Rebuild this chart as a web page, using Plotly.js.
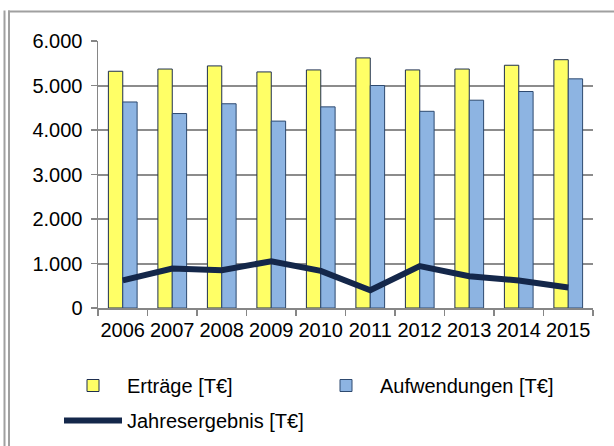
<!DOCTYPE html>
<html>
<head>
<meta charset="utf-8">
<script src="https://cdn.plot.ly/plotly-3.0.1.min.js"></script>
<style>
  html, body { margin: 0; padding: 0; background: #fff; }
  #chart { width: 614px; height: 446px; }
</style>
</head>
<body>
<div id="chart"></div>
<script>
// ---- data ----
const years = ['2006', '2007', '2008', '2009', '2010', '2011', '2012', '2013', '2014', '2015'];
const ertraege = [5320, 5370, 5440, 5305, 5350, 5620, 5350, 5370, 5455, 5580];
const aufwendungen = [4630, 4370, 4590, 4200, 4520, 5000, 4420, 4670, 4865, 5150];
const jahresergebnis = [620, 887, 850, 1050, 835, 400, 940, 715, 620, 460];
const seriesNames = ['Erträge [T€]', 'Aufwendungen [T€]', 'Jahresergebnis [T€]'];
const yTicks = [0, 1000, 2000, 3000, 4000, 5000, 6000];

// ---- layout geometry (pixels) ----
const W = 614, H = 446;
const L = 98, R = 21, T = 40.5, B = 138;
const pw = W - L - R, ph = H - T - B;
const px = x => (x - L) / pw;
const py = y => (H - B - y) / ph;
const cx = x => x / W;
const cy = y => (H - y) / H;

const FONT = 'Liberation Sans, Arial, sans-serif';

const traces = [
  {
    type: 'bar', name: seriesNames[0], x: years, y: ertraege,
    marker: { color: '#FFFF66', line: { color: '#1E2F4F', width: 1 } },
    legend: 'legend', hoverinfo: 'skip'
  },
  {
    type: 'bar', name: seriesNames[1], x: years, y: aufwendungen,
    marker: { color: '#8DB4E2', line: { color: '#2E4A70', width: 1 } },
    legend: 'legend2', hoverinfo: 'skip'
  },
  {
    type: 'scatter', mode: 'lines', name: seriesNames[2], x: years, y: jahresergebnis,
    line: { color: '#14274A', width: 6 },
    legend: 'legend3', hoverinfo: 'skip'
  }
];

const legendCommon = {
  orientation: 'h',
  xref: 'container', yref: 'container',
  xanchor: 'left', yanchor: 'top',
  itemwidth: 58,
  font: { family: FONT, size: 20, color: '#000' },
  bgcolor: 'rgba(0,0,0,0)', borderwidth: 0
};

const frame = { color: '#A0A0A0', width: 2 };
const layout = {
  width: W, height: H,
  margin: { l: L, r: R, t: T, b: B, pad: 0 },
  paper_bgcolor: '#ffffff', plot_bgcolor: '#ffffff',
  font: { family: FONT, size: 20, color: '#000000' },
  separators: ',.',
  barmode: 'group',
  bargap: 0.42,
  bargroupgap: 0,
  showlegend: true,
  legend: Object.assign({}, legendCommon, { x: cx(59), y: cy(366) }),
  legend2: Object.assign({}, legendCommon, { x: cx(312), y: cy(366) }),
  legend3: Object.assign({}, legendCommon, { x: cx(59), y: cy(401) }),
  xaxis: {
    type: 'category',
    showgrid: false,
    showline: true, linecolor: '#868686', linewidth: 1.5,
    ticks: 'outside', ticklen: 6, tickcolor: '#868686', tickwidth: 1.5,
    tickson: 'boundaries',
    tickangle: 0,
    ticklabelstandoff: 3,
    tickfont: { family: FONT, size: 20, color: '#000' },
    fixedrange: true
  },
  yaxis: {
    range: [0, 6000],
    tickvals: yTicks,
    tickformat: ',d',
    showgrid: true, gridcolor: '#8C8C8C', gridwidth: 2,
    zeroline: false,
    showline: true, linecolor: '#868686', linewidth: 1.5,
    ticks: 'outside', ticklen: 6, tickcolor: '#868686', tickwidth: 1.5,
    ticklabelstandoff: 4,
    tickfont: { family: FONT, size: 20, color: '#000' },
    fixedrange: true
  },
  shapes: [
    { type: 'line', xref: 'paper', yref: 'paper', x0: px(4.5), x1: px(4.5), y0: py(10), y1: py(H + 2), line: frame, layer: 'below' },
    { type: 'line', xref: 'paper', yref: 'paper', x0: px(9), x1: px(9), y0: py(10), y1: py(H + 2), line: frame, layer: 'below' },
    { type: 'line', xref: 'paper', yref: 'paper', x0: px(8), x1: px(W + 2), y0: py(11), y1: py(11), line: frame, layer: 'below' }
  ]
};

Plotly.newPlot('chart', traces, layout, { staticPlot: true, displayModeBar: false });
</script>
</body>
</html>
